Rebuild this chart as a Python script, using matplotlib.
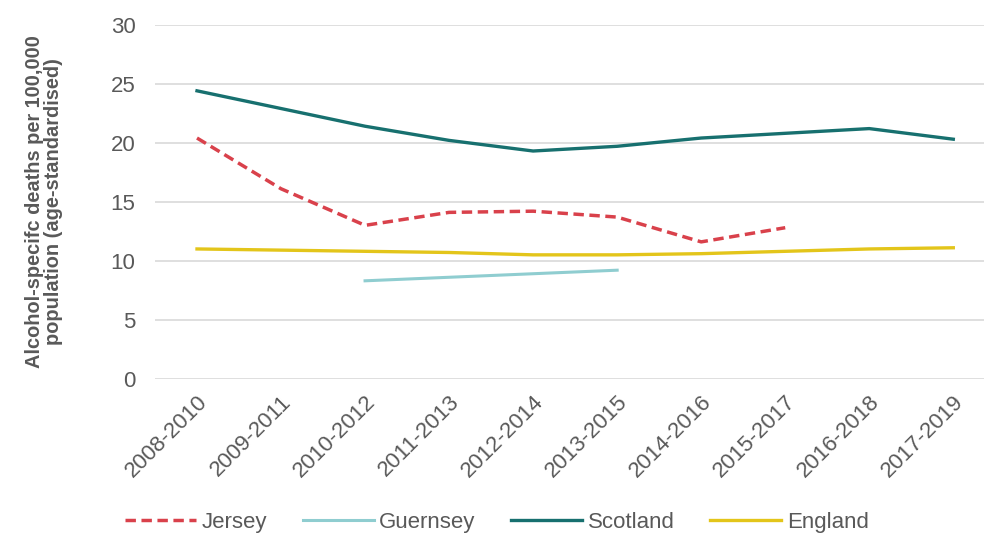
import numpy as np
import matplotlib
matplotlib.use("Agg")
import matplotlib.pyplot as plt


# data
periods = ["2008-2010", "2009-2011", "2010-2012", "2011-2013", "2012-2014",
           "2013-2015", "2014-2016", "2015-2017", "2016-2018", "2017-2019"]

jersey = [20.4, 16.1, 13.0, 14.1, 14.2, 13.7, 11.6, 12.8, None, None]
guernsey = [None, None, 8.3, 8.6, 8.9, 9.2, None, None, None, None]
scotland = [24.4, 22.9, 21.4, 20.2, 19.3, 19.7, 20.4, 20.8, 21.2, 20.3]
england = [11.0, 10.9, 10.8, 10.7, 10.5, 10.5, 10.6, 10.8, 11.0, 11.1]


def to_array( values ):

    return np.array( [np.nan if v is None else v for v in values], dtype=float )


def main():

    plt.rcParams["font.family"] = ["Liberation Sans", "DejaVu Sans"]

    fig = plt.figure( figsize=(9.84, 5.38), dpi=100 )

    ax = fig.add_axes( [0.1575, 0.296, 0.854, 0.658] )

    x = np.arange( len(periods) )

    ax.plot( x, to_array(jersey), color="#d9414b", lw=2.5, ls=(0, (3, 1.6)), label="Jersey" )

    ax.plot( x, to_array(guernsey), color="#8fcdd0", lw=2.2, label="Guernsey" )

    ax.plot( x, to_array(scotland), color="#17706f", lw=2.4, label="Scotland" )

    ax.plot( x, to_array(england), color="#e3c51a", lw=2.4, label="England" )

    ax.set_xlim( -0.5, len(periods) - 0.5 )

    ax.set_ylim( 0, 30 )

    ax.set_yticks( range(0, 31, 5) )

    ax.set_xticks( x )

    ax.set_xticklabels( periods, rotation=45, ha="right", rotation_mode="anchor" )

    ax.tick_params( axis="both", length=0, labelsize=16, labelcolor="#595959" )

    ax.tick_params( axis="y", pad=14 )

    ax.tick_params( axis="x", pad=9 )

    ax.grid( axis="y", color="#d9d9d9", lw=1.2 )

    ax.set_axisbelow( True )

    for side in ax.spines.values():

        side.set_visible( False )

    ax.set_ylabel( "Alcohol-specifc deaths per 100,000\npopulation (age-standardised)",
                   fontsize=14.4, fontweight="bold", color="#595959", labelpad=34,
                   linespacing=1.05 )

    fig.legend( loc="center", bbox_to_anchor=(0.505, 0.029), ncol=4, frameon=False,
                fontsize=16, labelcolor="#595959", handlelength=3.2, handletextpad=0.25,
                columnspacing=1.6 )

    fig.savefig( "out.png", dpi=100 )


if __name__ == "__main__":
    main()
